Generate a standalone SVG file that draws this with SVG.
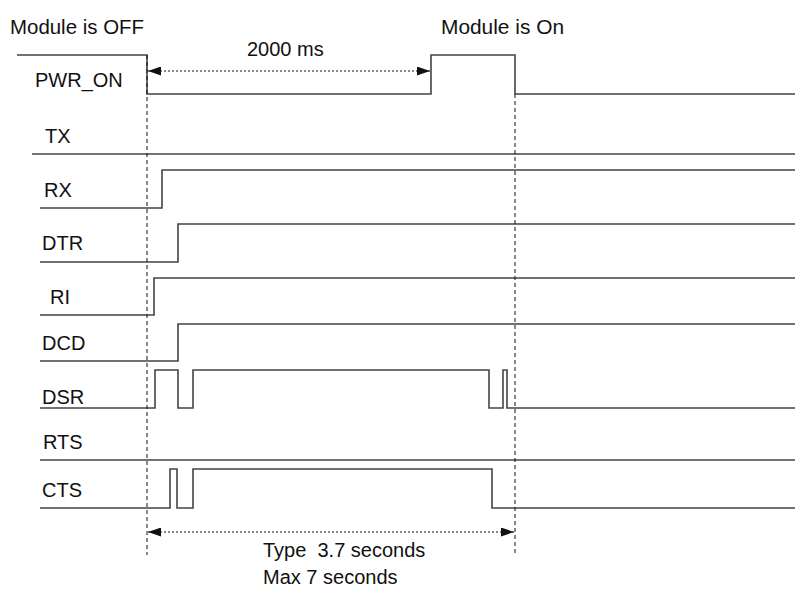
<svg xmlns="http://www.w3.org/2000/svg" width="795" height="595" viewBox="0 0 795 595">
<style>
text{font-family:"Liberation Sans",Arial,sans-serif;font-size:20px;fill:#111}
.sig{fill:none;stroke:#444;stroke-width:1.6}
.dash{fill:none;stroke:#111;stroke-width:1;stroke-dasharray:4,3}
.dim{fill:none;stroke:#111;stroke-width:1;stroke-dasharray:2,2}
</style>
<defs>
<marker id="ah" viewBox="0 0 13 9" refX="13" refY="4.5" markerWidth="13" markerHeight="9" markerUnits="userSpaceOnUse" orient="auto-start-reverse">
<path d="M0,0L13,4.5L0,9z" fill="#111"/>
</marker>
</defs>
<rect width="795" height="595" fill="#fff"/>
<g id="titles">
<text x="10" y="34" textLength="134" lengthAdjust="spacingAndGlyphs">Module is OFF</text>
<text x="441" y="34" textLength="123" lengthAdjust="spacingAndGlyphs">Module is On</text>
</g>
<g id="PWR_ON"><text x="35" y="87">PWR_ON</text><path class="sig" d="M17,55H147V94H431V55H515V94H795"/></g>
<g id="TX"><text x="45" y="143">TX</text><path class="sig" d="M32,154H795"/></g>
<g id="RX"><text x="44" y="197">RX</text><path class="sig" d="M40,208H162V170H795"/></g>
<g id="DTR"><text x="42" y="250">DTR</text><path class="sig" d="M40,262H178V224H795"/></g>
<g id="RI"><text x="50" y="304">RI</text><path class="sig" d="M40,315H154V278H795"/></g>
<g id="DCD"><text x="42" y="350">DCD</text><path class="sig" d="M40,361H178V324H795"/></g>
<g id="DSR"><text x="42" y="404">DSR</text><path class="sig" d="M40,408H155V370H178V408H193V370H489V408H503V370H507V408H795"/></g>
<g id="RTS"><text x="43" y="449">RTS</text><path class="sig" d="M40,460H795"/></g>
<g id="CTS"><text x="42" y="497">CTS</text><path class="sig" d="M40,508H170V469H177V508H193V469H492V508H795"/></g>
<g id="connectors">
<path class="dash" d="M147,55V555"/>
<path class="dash" d="M515,94V555"/>
<path class="dim" d="M148,71H430" marker-start="url(#ah)" marker-end="url(#ah)"/>
<path class="dim" d="M148,532H514" marker-start="url(#ah)" marker-end="url(#ah)"/>
</g>
<g id="labels">
<text x="247" y="56">2000 ms</text>
<text x="263" y="557" xml:space="preserve">Type  3.7 seconds</text>
<text x="263" y="584">Max 7 seconds</text>
</g>
</svg>
